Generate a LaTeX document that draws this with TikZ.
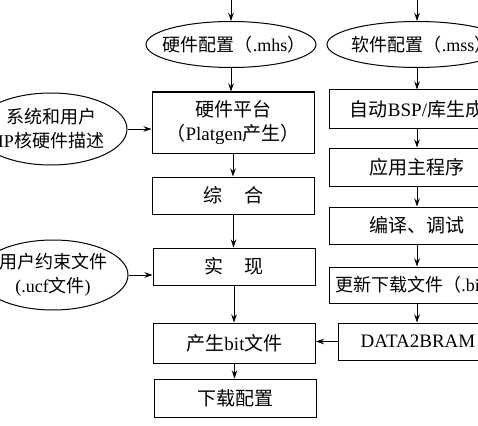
\documentclass[tikz,border=0pt]{standalone}
\usepackage{fontspec}
\setmainfont{Liberation Serif}
\newfontfamily\cjkfont{Noto Sans CJK SC}
\newcommand\zhs[1]{{\cjkfont #1}}
\usetikzlibrary{shapes.geometric,arrows.meta}
\tikzset{
  every node/.style={font=\fontsize{19}{24}\selectfont, align=center, inner sep=0pt},
  smalltext/.style={font=\fontsize{18}{24}\selectfont},
  stepbox/.style={draw, line width=1pt, minimum height=38pt},
  lbox/.style={stepbox, minimum width=162pt},
  rbox/.style={stepbox, minimum width=176pt},
  oval/.style={draw, ellipse, line width=1pt},
  arr/.style={line width=1pt, -{Stealth[length=8pt,width=5.5pt]}}
}
\begin{document}
\begin{tikzpicture}[x=1pt,y=-1pt]
\useasboundingbox (0,0) rectangle (478,425);
\fill[white] (0,0) rectangle (478,425);
\clip (0,0) rectangle (478,425);
% left column
\node[oval, minimum width=170pt, minimum height=46pt] (e1) at (231,44.5) {};
\node[smalltext, xshift=3pt] (e1t) at (e1.center) {\zhs{硬件配置（}.mhs\zhs{）}};
\node[lbox, minimum height=61pt] (b1) at (233,122.5) {\zhs{硬件平台}\\\zhs{（}Platgen\zhs{产生）}};
\node[lbox, minimum height=37pt] (c1) at (233.5,195.5) {\zhs{综}\hspace{22pt}\zhs{合}};
\node[lbox, minimum height=37pt] (c2) at (234,266.5) {\zhs{实}\hspace{22pt}\zhs{现}};
\node[lbox, minimum height=40pt] (pb) at (234.5,343) {\zhs{产生}bit\zhs{文件}};
\node[lbox] (dl) at (235,398) {\zhs{下载配置}};
% side ellipses
\node[oval, minimum width=152pt, minimum height=72pt] (l1) at (51,129) {};
\node[smalltext] (l1t) at (l1.center) {\zhs{系统和用户}\\IP\zhs{核硬件描述}};
\node[oval, minimum width=150pt, minimum height=70pt] (l2) at (53,275) {};
\node[smalltext] (l2t) at (l2.center) {\zhs{用户约束文件}\\(.ucf\zhs{文件})};
% right column
\node[oval, minimum width=180pt, minimum height=46pt] (e2) at (417,44.5) {};
\node[smalltext, xshift=5pt] (e2t) at (e2.center) {\zhs{软件配置（}.mss\zhs{）}};
\node[rbox] (b2) at (417,109) {\zhs{自动}BSP/\zhs{库生成}};
\node[rbox] (b3) at (417,167) {\zhs{应用主程序}};
\node[rbox, minimum height=37pt] (b4) at (417,225.5) {\zhs{编译、调试}};
\node[rbox, smalltext, minimum height=36pt] (b5) at (417,285) {\hspace*{4pt}\zhs{更新下载文件（}.bit\zhs{）}};
\node[stepbox, minimum width=160pt, minimum height=37pt] (b6) at (418,341.5) {DATA2BRAM};
% top inputs
\coordinate (t1) at (231,-5);
\coordinate (t2) at (417,-5);
\draw[arr] (t1) -- (e1.north);
\draw[arr] (t2) -- (e2.north);
% left flow
\draw[arr] (e1.south) -- (e1.south |- b1.north);
\draw[arr] (b1.south) -- (b1.south |- c1.north);
\draw[arr] (c1.south) -- (c1.south |- c2.north);
\draw[arr] (c2.south) -- (c2.south |- pb.north);
\draw[arr] (pb.south) -- (pb.south |- dl.north);
% side inputs
\draw[arr] (l1) -- (l1 -| b1.west);
\draw[arr] (l2) -- (l2 -| c2.west);
% right flow
\draw[arr] (e2.south) -- (b2.north);
\draw[arr] (b2.south) -- (b3.north);
\draw[arr] (b3.south) -- (b4.north);
\draw[arr] (b4.south) -- (b5.north);
\draw[arr] (b5.south) -- (b5.south |- b6.north);
\draw[arr] (b6.west) -- (b6.west -| pb.east);
\end{tikzpicture}
\end{document}
